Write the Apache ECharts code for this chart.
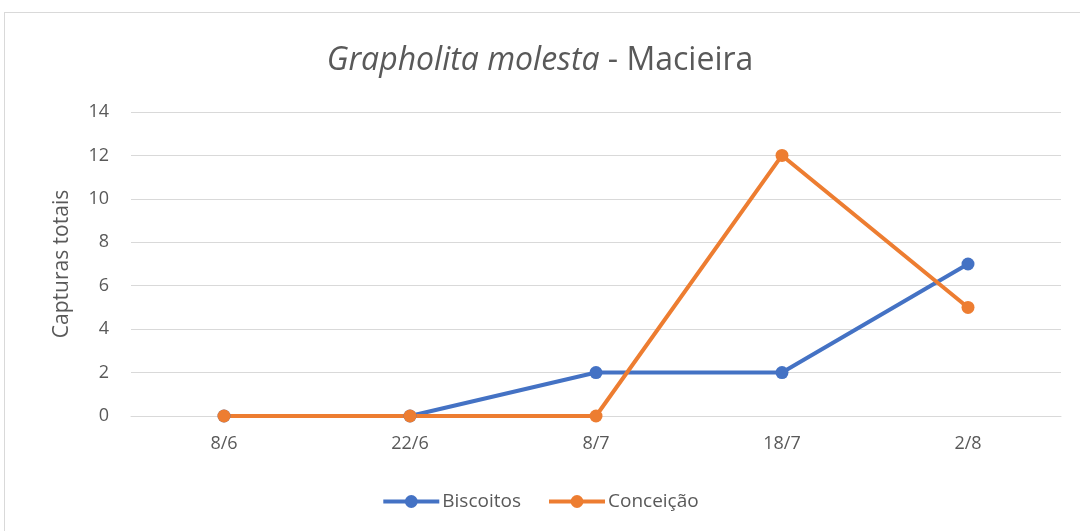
<!DOCTYPE html>
<html>
<head>
<meta charset="utf-8">
<script src="https://cdn.jsdelivr.net/npm/echarts@6/dist/echarts.min.js"></script>
<style>
    html, body { margin: 0; padding: 0; background: #fff; }
    #wrap { position: absolute; left: 4px; top: 12px; width: 1100px; height: 560px; border: 1px solid #d9d9d9; box-sizing: border-box; }
    #chart { position: absolute; left: 0; top: 0; width: 1080px; height: 531px; }
</style>
</head>
<body>
<div id="wrap"></div>
<div id="chart"></div>
<script>
    var categories = ['8/6', '22/6', '8/7', '18/7', '2/8'];
    var biscoitos = [0, 0, 2, 2, 7];
    var conceicao = [0, 0, 0, 12, 5];

    var font = '"Open Sans", "Liberation Sans", sans-serif';
    var chart = echarts.init(document.getElementById('chart'));
    var option = {
        animation: false,
        color: ['#4472C4', '#ED7D31'],
        title: {
            text: '{i|Grapholita molesta} - Macieira',
            left: 'center',
            top: 40,
            textStyle: {
                fontFamily: font,
                fontSize: 32,
                fontWeight: 'normal',
                color: '#595959',
                rich: {
                    i: { fontFamily: font, fontSize: 32, fontStyle: 'italic', color: '#595959' }
                }
            }
        },
        legend: {
            bottom: 15,
            left: 'center',
            itemWidth: 56,
            itemHeight: 16,
            itemGap: 26,
            lineStyle: { width: 4 },
            textStyle: { fontFamily: font, fontSize: 19, color: '#595959', padding: [0, 0, 0, -2] },
            data: ['Biscoitos', 'Conceição']
        },
        grid: { left: 131, right: 19, top: 112, bottom: 115 },
        xAxis: {
            type: 'category',
            data: categories,
            boundaryGap: true,
            axisLine: { lineStyle: { color: '#d9d9d9', width: 1 } },
            axisTick: { show: false },
            axisLabel: { fontFamily: font, fontSize: 18, color: '#595959', margin: 19 }
        },
        yAxis: {
            type: 'value',
            min: 0,
            max: 14,
            interval: 2,
            name: 'Capturas totais',
            nameLocation: 'middle',
            nameGap: 58,
            nameTextStyle: { fontFamily: font, fontSize: 21, color: '#595959' },
            axisLine: { show: false },
            axisTick: { show: false },
            axisLabel: { fontFamily: font, fontSize: 18, color: '#595959', margin: 22 },
            splitLine: { lineStyle: { color: '#d9d9d9', width: 1 } }
        },
        series: [{
            name: 'Biscoitos',
            type: 'line',
            data: biscoitos,
            symbol: 'circle',
            symbolSize: 13,
            lineStyle: { width: 4 }
        }, {
            name: 'Conceição',
            type: 'line',
            data: conceicao,
            symbol: 'circle',
            symbolSize: 13,
            lineStyle: { width: 4 }
        }]
    };
    chart.setOption(option);
</script>
</body>
</html>
